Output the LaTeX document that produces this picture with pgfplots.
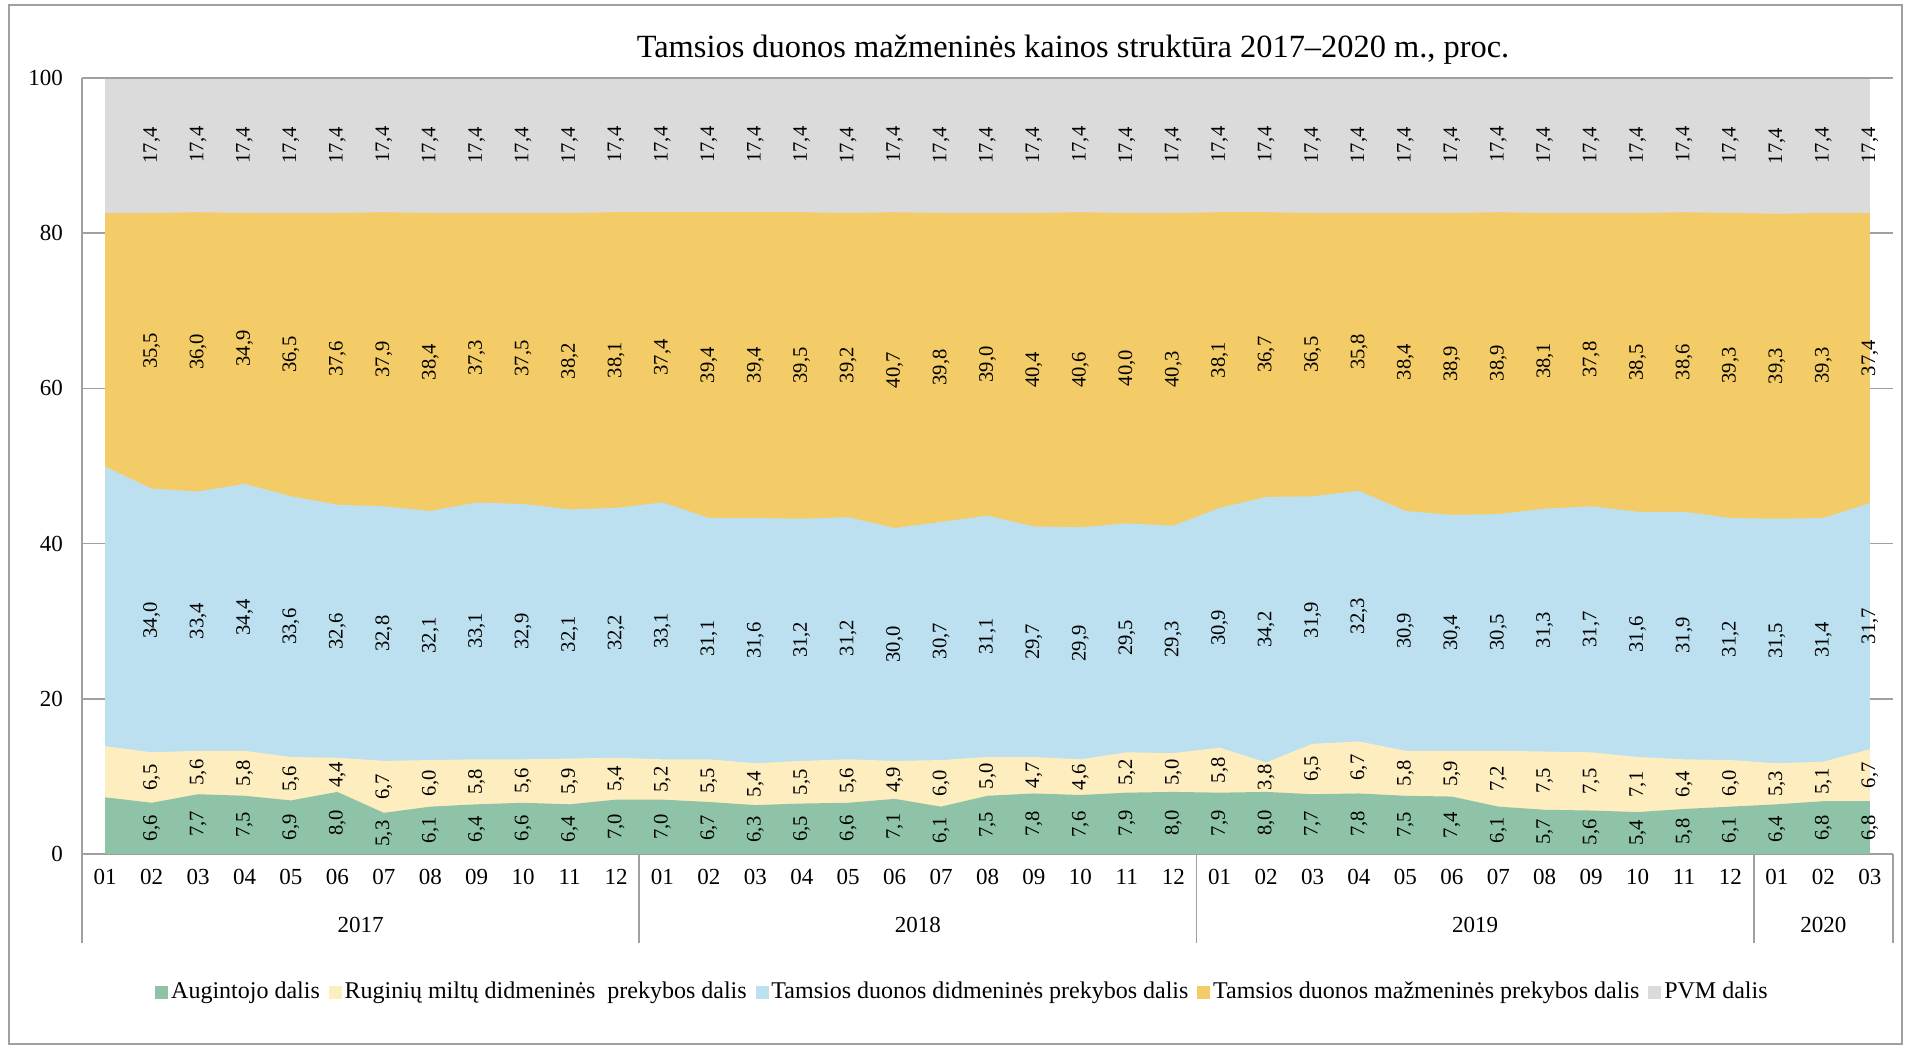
\documentclass[border=0pt]{standalone}
\usepackage{pgfplots}
\usepackage{pgfplotstable}
\pgfplotsset{compat=1.18}
\usepackage{fontspec}
\setmainfont{Liberation Serif}
\definecolor{cgreen}{HTML}{8FC3A7}
\definecolor{ccream}{HTML}{FDEDBF}
\definecolor{cblue}{HTML}{BCE0EF}
\definecolor{corange}{HTML}{F4CC67}
\definecolor{cgray}{HTML}{DBDBDB}
\definecolor{cline}{HTML}{A0A0A0}

\pgfplotstableread{
x g c b o p
0 7.3 6.6 36.0 32.7 17.4
1 6.6 6.5 34.0 35.5 17.4
2 7.7 5.6 33.4 36.0 17.4
3 7.5 5.8 34.4 34.9 17.4
4 6.9 5.6 33.6 36.5 17.4
5 8.0 4.4 32.6 37.6 17.4
6 5.3 6.7 32.8 37.9 17.4
7 6.1 6.0 32.1 38.4 17.4
8 6.4 5.8 33.1 37.3 17.4
9 6.6 5.6 32.9 37.5 17.4
10 6.4 5.9 32.1 38.2 17.4
11 7.0 5.4 32.2 38.1 17.4
12 7.0 5.2 33.1 37.4 17.4
13 6.7 5.5 31.1 39.4 17.4
14 6.3 5.4 31.6 39.4 17.4
15 6.5 5.5 31.2 39.5 17.4
16 6.6 5.6 31.2 39.2 17.4
17 7.1 4.9 30.0 40.7 17.4
18 6.1 6.0 30.7 39.8 17.4
19 7.5 5.0 31.1 39.0 17.4
20 7.8 4.7 29.7 40.4 17.4
21 7.6 4.6 29.9 40.6 17.4
22 7.9 5.2 29.5 40.0 17.4
23 8.0 5.0 29.3 40.3 17.4
24 7.9 5.8 30.9 38.1 17.4
25 8.0 3.8 34.2 36.7 17.4
26 7.7 6.5 31.9 36.5 17.4
27 7.8 6.7 32.3 35.8 17.4
28 7.5 5.8 30.9 38.4 17.4
29 7.4 5.9 30.4 38.9 17.4
30 6.1 7.2 30.5 38.9 17.4
31 5.7 7.5 31.3 38.1 17.4
32 5.6 7.5 31.7 37.8 17.4
33 5.4 7.1 31.6 38.5 17.4
34 5.8 6.4 31.9 38.6 17.4
35 6.1 6.0 31.2 39.3 17.4
36 6.4 5.3 31.5 39.3 17.4
37 6.8 5.1 31.4 39.3 17.4
38 6.8 6.7 31.7 37.4 17.4
}\datatable

\pgfplotsset{
  lbl/.style={draw=none, forget plot, skip coords between index={0}{1},
    point meta=explicit,
    nodes near coords={\pgfmathprintnumber[fixed,fixed zerofill,precision=1,use comma,assume math mode=true]{\pgfplotspointmeta}},
    nodes near coords align=center,
    every node near coord/.append style={rotate=90, anchor=center, inner sep=0pt, text=black, font=\fontsize{10.3}{12}\selectfont}},
  sq/.style={legend image code/.code={\fill[##1] (0pt,-3pt) rectangle (6pt,3pt);}}
}

\begin{document}
\begin{tikzpicture}
\path[use as bounding box] (0pt,0pt) rectangle (954pt,523.5pt);
\draw[cline, line width=0.8pt] (4.5pt,1.5pt) rectangle (951pt,521pt);
\node[font=\fontsize{16.2}{19}\selectfont] at (536.5pt,498.5pt) {Tamsios duonos mažmeninės kainos struktūra 2017–2020 m., proc.};
\begin{axis}[
  at={(41pt,96.5pt)}, anchor=south west,
  width=905.5pt, height=388pt, scale only axis,
  xmin=-0.5, xmax=38.5, ymin=0, ymax=100,
  clip=false,
  axis x line*=bottom, axis y line*=left,
  axis line style={draw=cline, line width=0.9pt},
  ytick={0,20,...,100}, ymajorgrids,
  grid style={draw=cline, line width=0.8pt},
  xtick={0,...,38},
  xticklabels={01,02,03,04,05,06,07,08,09,10,11,12,01,02,03,04,05,06,07,08,09,10,11,12,01,02,03,04,05,06,07,08,09,10,11,12,01,02,03},
  major tick length=0pt,
  tick label style={font=\fontsize{11.5}{13}\selectfont},
  yticklabel style={xshift=-6pt},
  xticklabel style={yshift=-4pt},
  /pgf/number format/assume math mode=true,
  legend style={at={(0.4865,-0.1778)}, anchor=center, legend columns=-1, draw=none, fill=none,
    font=\fontsize{12}{14}\selectfont,
    nodes={inner sep=1.5pt},
    /tikz/every even column/.append style={column sep=3pt}},
]
\addlegendimage{sq, cgreen}
\addlegendentry{Augintojo dalis}
\addlegendimage{sq, ccream}
\addlegendentry{Ruginių miltų didmeninės~ prekybos dalis}
\addlegendimage{sq, cblue}
\addlegendentry{Tamsios duonos didmeninės prekybos dalis}
\addlegendimage{sq, corange}
\addlegendentry{Tamsios duonos mažmeninės prekybos dalis}
\addlegendimage{sq, cgray}
\addlegendentry{PVM dalis}

\addplot[fill=cgray, draw=none, forget plot] table[x=x, y expr=\thisrow{g}+\thisrow{c}+\thisrow{b}+\thisrow{o}+\thisrow{p}] {\datatable} \closedcycle;
\addplot[fill=corange, draw=none, forget plot] table[x=x, y expr=\thisrow{g}+\thisrow{c}+\thisrow{b}+\thisrow{o}] {\datatable} \closedcycle;
\addplot[fill=cblue, draw=none, forget plot] table[x=x, y expr=\thisrow{g}+\thisrow{c}+\thisrow{b}] {\datatable} \closedcycle;
\addplot[fill=ccream, draw=none, forget plot] table[x=x, y expr=\thisrow{g}+\thisrow{c}] {\datatable} \closedcycle;
\addplot[fill=cgreen, draw=none, forget plot] table[x=x, y=g] {\datatable} \closedcycle;

\addplot[lbl] table[x=x, y expr=\thisrow{g}/2, meta=g] {\datatable};
\addplot[lbl] table[x=x, y expr=\thisrow{g}+\thisrow{c}/2, meta=c] {\datatable};
\addplot[lbl] table[x=x, y expr=\thisrow{g}+\thisrow{c}+\thisrow{b}/2, meta=b] {\datatable};
\addplot[lbl] table[x=x, y expr=\thisrow{g}+\thisrow{c}+\thisrow{b}+\thisrow{o}/2, meta=o] {\datatable};
\addplot[lbl] table[x=x, y expr=\thisrow{g}+\thisrow{c}+\thisrow{b}+\thisrow{o}+\thisrow{p}/2, meta=p] {\datatable};

\draw[cline, line width=0.9pt] (axis cs:-0.5,100) -- (axis cs:38.5,100);
\pgfplotsinvokeforeach{-0.5,11.5,23.5,35.5,38.5}{
  \draw[cline, line width=0.9pt] (axis cs:#1,0) -- ++(0pt,-44.5pt);
}
\node[font=\fontsize{11.5}{13}\selectfont] at ([yshift=-35.5pt]axis cs:5.5,0) {2017};
\node[font=\fontsize{11.5}{13}\selectfont] at ([yshift=-35.5pt]axis cs:17.5,0) {2018};
\node[font=\fontsize{11.5}{13}\selectfont] at ([yshift=-35.5pt]axis cs:29.5,0) {2019};
\node[font=\fontsize{11.5}{13}\selectfont] at ([yshift=-35.5pt]axis cs:37,0) {2020};
\end{axis}
\end{tikzpicture}
\end{document}
